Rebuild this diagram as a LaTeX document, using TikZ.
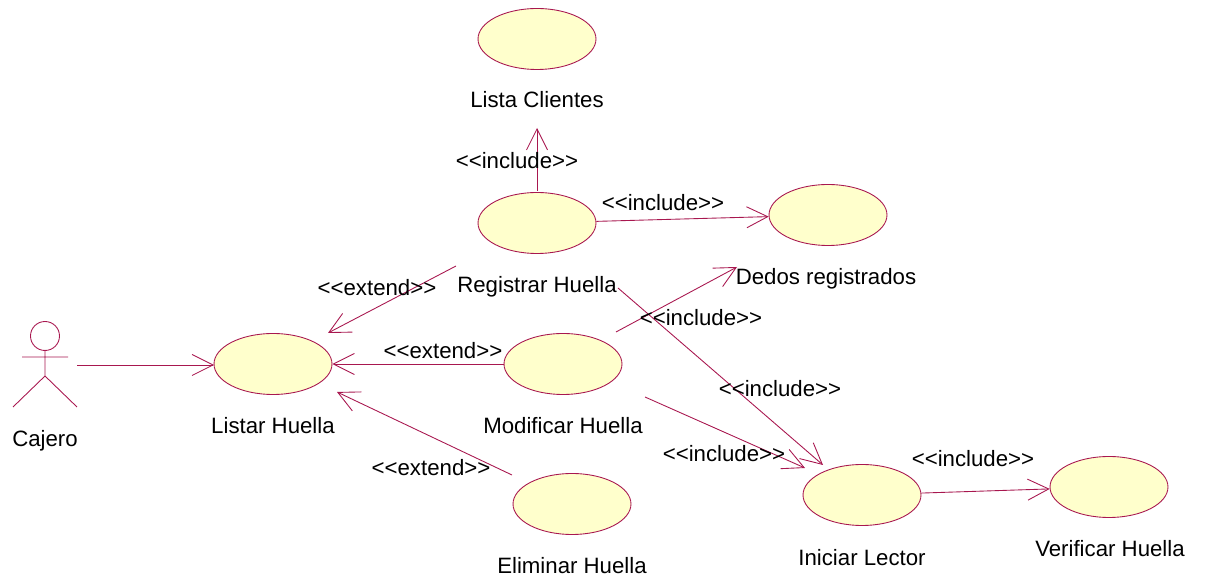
\documentclass[tikz,border=0pt]{standalone}
\usepackage{fontspec}
\setmainfont{Liberation Sans}
\usepackage{xcolor}
\usetikzlibrary{arrows.meta,shapes.geometric}
\definecolor{umlline}{HTML}{A8174F}
\definecolor{umlfill}{HTML}{FFFFCC}
\newcommand{\incl}{<{}<include>{}>}
\newcommand{\extd}{<{}<extend>{}>}
\tikzset{
    usecase/.style={ellipse,draw=umlline,fill=umlfill,line width=0.5pt,minimum width=2.36cm,minimum height=1.22cm,inner sep=0pt},
    link/.style={draw=umlline,line width=0.5pt,-{Straight Barb[length=0.42cm,width=0.42cm,line width=0.5pt]}},
    txt/.style={font=\fontsize{12.65pt}{14pt}\selectfont,text=black,inner sep=0pt,text height=12pt,text depth=3pt}
}

\begin{document}
\begin{tikzpicture}[x=0.02cm,y=-0.02cm]
        \useasboundingbox (0,0) rectangle (1205,580);

        \node[usecase] (lista) at (537,39) {};
        \node[usecase] (registrar) at (537,223) {};
        \node[usecase] (dedos) at (828,215) {};
        \node[usecase] (listar) at (273,364) {};
        \node[usecase] (modificar) at (563,364) {};
        \node[usecase] (eliminar) at (572,504) {};
        \node[usecase] (iniciar) at (862,495) {};
        \node[usecase] (verificar) at (1109,487) {};

        \node[txt] (listaT) at (537,100) {Lista Clientes};
        \node[txt] (registrarT) at (537,285) {Registrar Huella};
        \node[txt] (dedosT) at (826,277) {Dedos registrados};
        \node[txt] (listarT) at (273,426) {Listar Huella};
        \node[txt] (modificarT) at (563,426) {Modificar Huella};
        \node[txt] (eliminarT) at (572,566) {Eliminar Huella};
        \node[txt] (iniciarT) at (862,558) {Iniciar Lector};
        \node[txt] (verificarT) at (1110,549) {Verificar Huella};
        \node[txt] (cajeroT) at (45,439) {Cajero};

        % actor
        \draw[umlline,line width=0.5pt] (45,336) circle (14.5);
        \draw[umlline,line width=0.5pt] (45,350)--(45,376) (22,357)--(68,357) (13,407)--(45,376)--(77,407);

        \coordinate (cajeroE) at (77,365);
        \coordinate (listarW) at (214,365);
        \coordinate (listaS) at (537,128);
        \coordinate (registrarN) at (537,191);
        \coordinate (registrarSW) at (456,266);
        \coordinate (listarNE) at (328,333);
        \coordinate (eliminarNW) at (512,475);
        \coordinate (listarSE) at (337,392);
        \coordinate (modificarNE) at (616,332);
        \coordinate (dedosSW) at (737,267);
        \coordinate (registrarSE) at (618,288);
        \coordinate (iniciarN) at (823,465);
        \coordinate (modificarSE) at (645,397);
        \coordinate (iniciarNW) at (805,468);

        \draw[link] (cajeroE)--(listarW);
        \draw[link] (registrarN)--(listaS);
        \draw[link] (registrar)--(dedos);
        \draw[link] (registrarSW)--(listarNE);
        \draw[link] (modificar)--(listar);
        \draw[link] (eliminarNW)--(listarSE);
        \draw[link] (modificarNE)--(dedosSW);
        \draw[link] (registrarSE)--(iniciarN);
        \draw[link] (modificarSE)--(iniciarNW);
        \draw[link] (iniciar)--(verificar);

        \node[txt] (incA) at (517,161) {\incl};
        \node[txt] (incB) at (663,203) {\incl};
        \node[txt] (incC) at (701,318) {\incl};
        \node[txt] (incD) at (780,389) {\incl};
        \node[txt] (incE) at (724,454) {\incl};
        \node[txt] (incF) at (973,459) {\incl};
        \node[txt] (extA) at (377,288) {\extd};
        \node[txt] (extB) at (443,351) {\extd};
        \node[txt] (extC) at (431,468) {\extd};
    \end{tikzpicture}
\end{document}
